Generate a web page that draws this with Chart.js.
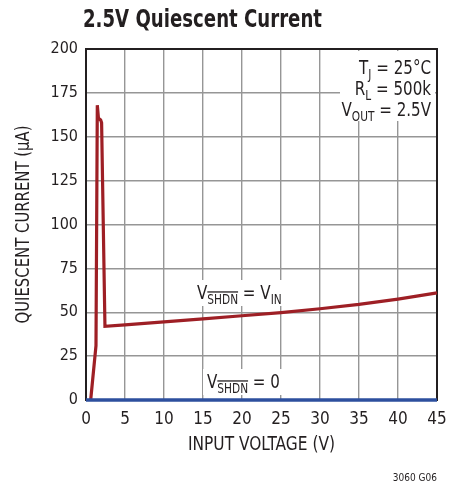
<!DOCTYPE html>
<html>
<head>
<meta charset="utf-8">
<script src="https://cdn.jsdelivr.net/npm/chart.js@4/dist/chart.umd.min.js"></script>
<style>
  body { margin: 0; background: #fff; }
  #wrap { width: 466px; height: 484px; }
</style>
</head>
<body>
<div id="wrap"><canvas id="chart" width="466" height="484"></canvas></div>
<script>
// dữ liệu
var vinOn = [0.6, 1.28, 1.45, 1.6, 1.88, 2.0, 2.43, 5, 10, 15, 20, 25, 30, 35, 40, 45];
var iqOn = [0, 31, 168, 160.5, 159.5, 158, 42, 42.8, 44.5, 46.2, 48, 49.8, 52, 54.5, 57.5, 61];
var vinOff = [0, 45];
var iqOff = [0, 0];
var xTicks = [0, 5, 10, 15, 20, 25, 30, 35, 40, 45];
var yTicks = [0, 25, 50, 75, 100, 125, 150, 175, 200];

var FONT = '"Liberation Sans Narrow", "DejaVu Sans Condensed", "Roboto", sans-serif';
var INK = '#231f20';

function toPoints(xs, ys) {
    return xs.map(function (x, i) { return {x: x, y: ys[i]}; });
}

// vẽ chữ có chỉ số dưới, gạch trên, nén ngang sx
function drawParts(ctx, parts, x, y, align, sx) {
    var total = 0;
    parts.forEach(function (p) {
        ctx.font = p.size + 'px ' + FONT;
        p.w = ctx.measureText(p.t).width;
        total += p.w;
    });
    ctx.save();
    var start = align === 'right' ? x - total * sx : (align === 'center' ? x - total * sx / 2 : x);
    ctx.translate(start, y);
    ctx.scale(sx, 1);
    ctx.textAlign = 'left';
    var cx = 0;
    parts.forEach(function (p) {
        ctx.font = p.size + 'px ' + FONT;
        var yy = p.sub ? 5 : 0;
        ctx.fillText(p.t, cx, yy);
        if (p.over) {
            ctx.beginPath();
            ctx.lineWidth = 1.3;
            ctx.moveTo(cx, yy - p.size * 0.86);
            ctx.lineTo(cx + p.w, yy - p.size * 0.86);
            ctx.stroke();
        }
        cx += p.w;
    });
    ctx.restore();
}

// vẽ chữ vừa khít bề rộng cho trước
function drawFit(ctx, text, font, cx, y, width) {
    ctx.save();
    ctx.font = font;
    var w = ctx.measureText(text).width;
    ctx.translate(cx, y);
    ctx.scale(width / w, 1);
    ctx.textAlign = 'center';
    ctx.fillText(text, 0, 0);
    ctx.restore();
}

var textPlugin = {
    id: 'texts',
    beforeDatasetsDraw: function (chart) {
        var ctx = chart.ctx;
        var a = chart.chartArea;
        ctx.save();
        ctx.fillStyle = '#fff';
        ctx.fillRect(340, 51, 95, 70);
        ctx.fillRect(194, 280, 102, 26);
        ctx.fillRect(203, 369, 96, 26);
        // khung đen quanh vùng vẽ
        ctx.strokeStyle = INK;
        ctx.lineWidth = 2;
        ctx.strokeRect(a.left, a.top, a.right - a.left, a.bottom - a.top);
        ctx.restore();
    },
    afterDraw: function (chart) {
        var ctx = chart.ctx;
        var a = chart.chartArea;
        ctx.save();
        ctx.fillStyle = INK;
        ctx.strokeStyle = INK;
        ctx.textBaseline = 'alphabetic';

        drawFit(ctx, '2.5V Quiescent Current', 'bold 25px ' + FONT, 202.5, 27, 239);

        drawParts(ctx, [{t: 'T', size: 20}, {t: 'J', size: 14, sub: true}, {t: ' = 25°C', size: 20}], 431, 74, 'right', 0.84);
        drawParts(ctx, [{t: 'R', size: 20}, {t: 'L', size: 14, sub: true}, {t: ' = 500k', size: 20}], 431, 95, 'right', 0.84);
        drawParts(ctx, [{t: 'V', size: 20}, {t: 'OUT', size: 14, sub: true}, {t: ' = 2.5V', size: 20}], 431, 116, 'right', 0.84);

        drawParts(ctx, [{t: 'V', size: 20}, {t: 'SHDN', size: 14, sub: true, over: true}, {t: ' = V', size: 20}, {t: 'IN', size: 14, sub: true}], 197, 299, 'left', 0.84);
        drawParts(ctx, [{t: 'V', size: 20}, {t: 'SHDN', size: 14, sub: true, over: true}, {t: ' = 0', size: 20}], 207, 388, 'left', 0.84);

        drawFit(ctx, 'INPUT VOLTAGE (V)', '19px ' + FONT, (a.left + a.right) / 2, 450, 147);

        ctx.save();
        ctx.translate(29, (a.top + a.bottom) / 2);
        ctx.rotate(-Math.PI / 2);
        drawFit(ctx, 'QUIESCENT CURRENT (µA)', '19px ' + FONT, 0, 0, 198);
        ctx.restore();

        ctx.font = '10px ' + FONT;
        ctx.textAlign = 'right';
        ctx.fillText('3060 G06', 437, 481);
        ctx.restore();
    }
};

new Chart(document.getElementById('chart'), {
    type: 'scatter',
    data: {
        datasets: [{
                label: 'VSHDN = VIN',
                data: toPoints(vinOn, iqOn),
                showLine: true,
                borderColor: '#9e1f25',
                borderWidth: 3.2,
                pointRadius: 0,
                clip: false,
                order: 1
            }, {
                label: 'VSHDN = 0',
                data: toPoints(vinOff, iqOff),
                showLine: true,
                borderColor: '#2d4f9e',
                borderWidth: 3.5,
                pointRadius: 0,
                clip: false,
                order: 0
            }]
    },
    options: {
        responsive: false,
        animation: false,
        layout: {padding: {top: 49, right: 29, left: 0, bottom: 0}},
        plugins: {
            legend: {display: false},
            tooltip: {enabled: false}
        },
        scales: {
            x: {
                type: 'linear',
                min: 0,
                max: 45,
                afterBuildTicks: function (s) { s.ticks = xTicks.map(function (v) { return {value: v}; }); },
                afterFit: function (s) { s.height = 84; },
                grid: {color: '#969696', lineWidth: 1.4, drawTicks: false},
                border: {color: INK, width: 2},
                ticks: {color: INK, font: {family: FONT, size: 17}, padding: 9, maxRotation: 0}
            },
            y: {
                type: 'linear',
                min: 0,
                max: 200,
                afterBuildTicks: function (s) { s.ticks = yTicks.map(function (v) { return {value: v}; }); },
                afterFit: function (s) { s.width = 86; },
                grid: {color: '#969696', lineWidth: 1.4, drawTicks: false},
                border: {color: INK, width: 2},
                ticks: {color: INK, font: {family: FONT, size: 16}, padding: 8}
            }
        }
    },
    plugins: [textPlugin]
});
</script>
</body>
</html>
